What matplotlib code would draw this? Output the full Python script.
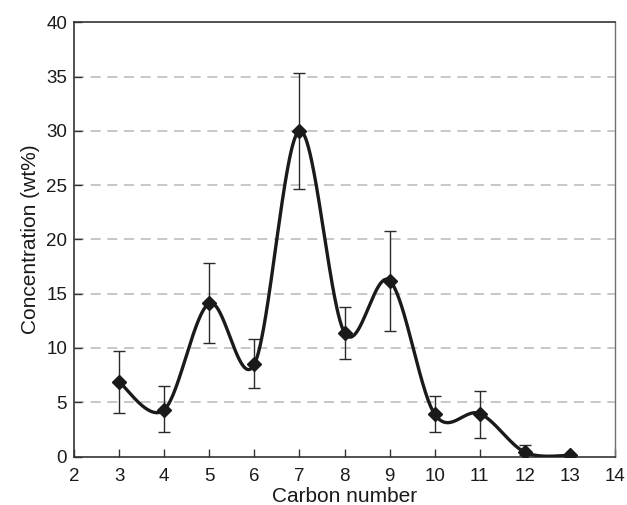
import numpy as np
import matplotlib
matplotlib.use("Agg")
import matplotlib.pyplot as plt

carbon = [3, 4, 5, 6, 7, 8, 9, 10, 11, 12, 13]
conc = [6.85, 4.3, 14.1, 8.5, 30.0, 11.4, 16.2, 3.9, 3.95, 0.4, 0.1]
err_hi = [9.75, 6.45, 17.85, 10.8, 35.35, 13.75, 20.8, 5.55, 6.0, 1.1, 0.1]
err_lo = [4.05, 2.25, 10.45, 6.3, 24.6, 9.0, 11.55, 2.3, 1.75, 0.15, 0.1]
xticks = list(range(2, 15))
yticks = list(range(0, 45, 5))

plt.rcParams['font.family'] = ['Liberation Sans', 'DejaVu Sans']

fig = plt.figure(figsize=(6.27, 5.05), dpi=100)
ax = fig.add_axes([0.118, 0.096, 0.863, 0.860])

# smoothed line (Catmull-Rom / Bezier like spreadsheet smoothing)
x = np.array(carbon, float)
y = np.array(conc, float)
px = np.concatenate([[x[0]], x, [x[-1]]])
py = np.concatenate([[y[0]], y, [y[-1]]])
sx, sy = [], []
t = np.linspace(0, 1, 60)
for i in range(1, len(px) - 2):
    p0 = np.array([px[i], py[i]])
    p3 = np.array([px[i + 1], py[i + 1]])
    p1 = p0 + (np.array([px[i + 1], py[i + 1]]) - np.array([px[i - 1], py[i - 1]])) / 6
    p2 = p3 - (np.array([px[i + 2], py[i + 2]]) - np.array([px[i], py[i]])) / 6
    b = ((1 - t) ** 3)[:, None] * p0 + (3 * (1 - t) ** 2 * t)[:, None] * p1 \
        + (3 * (1 - t) * t ** 2)[:, None] * p2 + (t ** 3)[:, None] * p3
    sx.extend(b[:, 0]); sy.extend(b[:, 1])

for yv in yticks[1:-1]:
    ax.axhline(yv, color='#bdbdbd', lw=1.2, dashes=(6, 4), zorder=0)

yerr = [np.array(conc) - np.array(err_lo), np.array(err_hi) - np.array(conc)]
ax.errorbar(carbon, conc, yerr=yerr, fmt='none', ecolor='#2a2a2a',
            elinewidth=1.0, capsize=4, capthick=1.0, zorder=2)
ax.plot(sx, sy, color='#1a1a1a', lw=2.4, zorder=3)
ax.plot(carbon, conc, linestyle='none', marker='D', markersize=7,
        color='#1a1a1a', zorder=4)

ax.set_xlim(2, 14)
ax.set_ylim(0, 40)
ax.set_xticks(xticks)
ax.set_yticks(yticks)
ax.tick_params(axis='both', direction='in', length=6, width=1.0,
               color='#333333', labelsize=13.5, labelcolor='#1a1a1a')
ax.tick_params(axis='x', pad=8)
ax.tick_params(axis='y', pad=5)
for s in ['left', 'bottom', 'top']:
    ax.spines[s].set_color('#333333')
    ax.spines[s].set_linewidth(1.2)
ax.spines['right'].set_color('#707070')
ax.spines['right'].set_linewidth(1.0)

bb = ax.get_position()
fig.text((bb.x0 + bb.x1) / 2, 3.5 / 505, 'Carbon number', fontsize=15,
         color='#1a1a1a', ha='center', va='baseline')
ax.set_ylabel('Concentration (wt%)', fontsize=15, color='#1a1a1a', labelpad=4)

fig.savefig('out.png', dpi=100)
